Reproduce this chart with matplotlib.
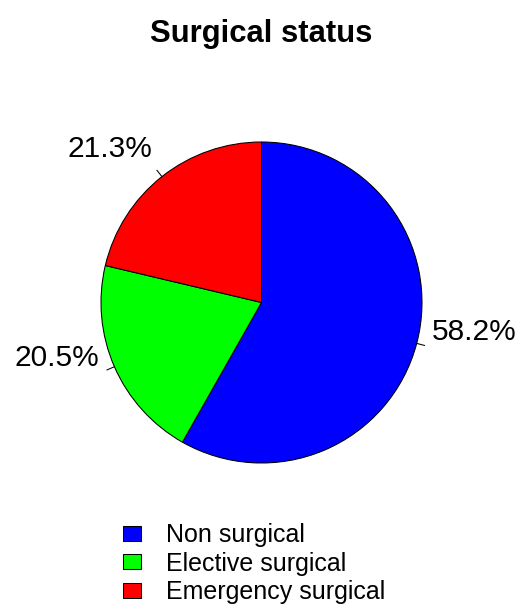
import numpy as np
import matplotlib
matplotlib.use("Agg")
import matplotlib.pyplot as plt
from matplotlib.patches import Patch

# Data
categories = ["Non surgical", "Elective surgical", "Emergency surgical"]
shares = [58.2, 20.5, 21.3]
colors = ["#0000FF", "#00FF00", "#FF0000"]
title = "Surgical status"

W, H = 526, 608
fig = plt.figure(figsize=(W / 100, H / 100), dpi=100)
ax = fig.add_axes([0, 0, 1, 1])
ax.set_xlim(0, W)
ax.set_ylim(0, H)
ax.set_aspect("equal")
ax.axis("off")

plt.rcParams["font.family"] = ["Liberation Sans", "DejaVu Sans"]

cx, cy, r = 261.5, H - 302.5, 160.5
wedges, _ = ax.pie(shares, colors=colors, startangle=90, counterclock=False,
                   center=(cx, cy), radius=r, frame=True,
                   wedgeprops=dict(edgecolor="black", linewidth=0.75))
ax.set_xlim(0, W)
ax.set_ylim(0, H)
ax.axis("off")

for w, s in zip(wedges, shares):
    mid = np.deg2rad((w.theta1 + w.theta2) / 2)
    c, sn = np.cos(mid), np.sin(mid)
    ax.plot([cx + r * c, cx + 1.05 * r * c], [cy + r * sn, cy + 1.05 * r * sn],
            color="black", linewidth=0.75)
    lx, ly = cx + 1.1 * r * c, cy + 1.1 * r * sn
    ax.text(lx, ly + 7, f"{s}%", fontsize=21.5,
            ha="left" if c >= 0 else "right", va="baseline")

fig.text(261 / W, 1 - 34 / H, title, fontsize=22.3, fontweight="bold",
         ha="center", va="center")

handles = [Patch(facecolor=col, edgecolor="black", linewidth=0.75) for col in colors]
fig.legend(handles, categories, loc="upper left",
           bbox_to_anchor=(123 / W, 1 - 523 / H), frameon=False,
           fontsize=18, handlelength=0.72, handleheight=0.56,
           handletextpad=1.0, labelspacing=0.18, borderpad=0, borderaxespad=0)

fig.savefig("out.png", dpi=100)
